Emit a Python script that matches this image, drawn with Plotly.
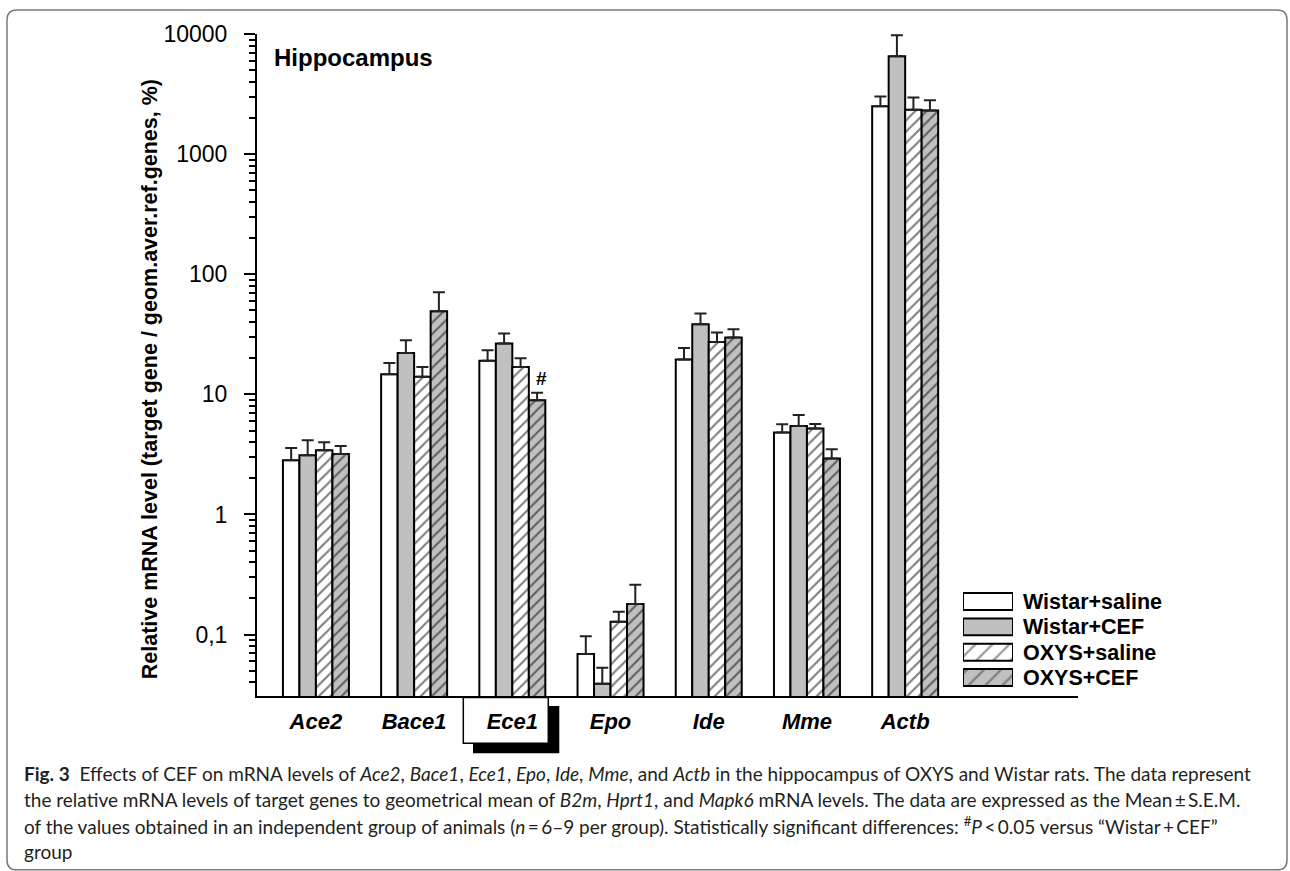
import math
import plotly.graph_objects as go

genes = ["Ace2", "Bace1", "Ece1", "Epo", "Ide", "Mme", "Actb"]
groups = ["Wistar+saline", "Wistar+CEF", "OXYS+saline", "OXYS+CEF"]

wistar_saline = [2.83, 14.7, 19.0, 0.069, 19.5, 4.81, 2506]
wistar_saline_sem = [0.75, 3.5, 4.3, 0.028, 4.8, 0.83, 514]
wistar_cef = [3.11, 22.1, 26.5, 0.039, 38.3, 5.46, 6535]
wistar_cef_sem = [1.04, 6.1, 5.6, 0.014, 8.7, 1.28, 3245]
oxys_saline = [3.43, 14.0, 16.9, 0.128, 27.3, 5.19, 2340]
oxys_saline_sem = [0.57, 2.9, 3.1, 0.027, 5.5, 0.48, 624]
oxys_cef = [3.18, 49.1, 8.93, 0.18, 29.7, 2.92, 2310]
oxys_cef_sem = [0.54, 21.6, 1.4, 0.08, 5.1, 0.57, 500]

ytick_vals = [0.1, 1, 10, 100, 1000, 10000]
ytick_text = ["0,1", "1", "10", "100", "1000", "10000"]

W, H = 1290, 871
L, R, T, B = 257, 1078, 33.5, 696


def px(x):
    return (x - L) / (R - L)


def py(y):
    return (B - y) / (B - T)


GRAY = "#c0c0c0"
styles = [
    dict(color="white", shape=""),
    dict(color=GRAY, shape=""),
    dict(color="white", shape="/"),
    dict(color=GRAY, shape="/"),
]
series = [wistar_saline, wistar_cef, oxys_saline, oxys_cef]
sems = [wistar_saline_sem, wistar_cef_sem, oxys_saline_sem, oxys_cef_sem]

fig = go.Figure()
for name, vals, err, st in zip(groups, series, sems, styles):
    fig.add_trace(go.Bar(
        name=name, x=genes, y=vals, showlegend=False,
        marker=dict(color=st["color"], line=dict(color="black", width=2),
                    pattern=dict(shape=st["shape"], fgcolor="black", bgcolor=st["color"],
                                 size=8, solidity=0.27)),
        error_y=dict(type="data", symmetric=False, array=err, arrayminus=[0] * len(err),
                     color="#222222", thickness=2, width=6),
        xaxis="x", yaxis="y",
    ))

# legend swatches as a small bar chart
fig.add_trace(go.Bar(
    x=[1] * len(groups), y=groups, orientation="h", width=0.67, showlegend=False,
    marker=dict(color=[s["color"] for s in styles], line=dict(color="black", width=2),
                pattern=dict(shape=[s["shape"] for s in styles], fgcolor="black",
                             bgcolor=[s["color"] for s in styles], size=12, solidity=0.2)),
    xaxis="x2", yaxis="y2", hoverinfo="skip",
))

minor_vals = [m * 10 ** e for e in range(-2, 4) for m in range(2, 10)]

fig.update_layout(
    width=W, height=H,
    margin=dict(l=L, r=W - R, t=T, b=H - B, pad=0),
    paper_bgcolor="white", plot_bgcolor="white",
    barmode="group", bargap=0.328, bargroupgap=0,
    font=dict(family="Liberation Sans, Arial, sans-serif", color="black"),
    xaxis=dict(type="category", range=[-0.6, 7.76], showline=True, linecolor="black",
               linewidth=2, ticks="", showgrid=False, zeroline=False,
               tickmode="array", tickvals=genes, ticktext=genes,
               tickfont=dict(size=22, weight="bold", style="italic", color="black"),
               ticklabelstandoff=5),
    yaxis=dict(type="log", range=[math.log10(0.0308), 4.0], showline=True, linecolor="black",
               linewidth=2, ticks="outside", ticklen=11, tickwidth=2, tickcolor="black",
               tickvals=ytick_vals, ticktext=ytick_text, showgrid=False, zeroline=False,
               tickfont=dict(size=23, color="black"), ticklabelstandoff=12,
               minor=dict(tickvals=minor_vals, ticks="outside", ticklen=6, tickwidth=1.5,
                          tickcolor="black", showgrid=False)),
    xaxis2=dict(domain=[px(963), px(1013)], range=[0, 1], visible=False, anchor="y2",
                fixedrange=True),
    yaxis2=dict(domain=[py(690.2), py(588.8)], anchor="x2", type="category",
                autorange="reversed", side="right", showline=False, ticks="",
                tickmode="array", tickvals=groups, ticktext=groups,
                showgrid=False, zeroline=False, ticklabelstandoff=9,
                tickfont=dict(size=21.5, weight="bold", color="black")),
)

# Ece1 label box with drop shadow
fig.add_shape(type="rect", xref="paper", yref="paper", layer="below",
              x0=px(473), x1=px(559.3), y0=py(753.3), y1=py(706),
              fillcolor="black", line=dict(width=0))
fig.add_shape(type="rect", xref="paper", yref="paper", layer="below",
              x0=px(463.3), x1=px(548.3), y0=py(743.3), y1=py(697.5),
              fillcolor="white", line=dict(color="black", width=1.5))

# rounded figure border
bx0, bx1, by0, by1, rr = 7, 1287, 9.5, 870, 10
path = (f"M {px(bx0 + rr)},{py(by0)} L {px(bx1 - rr)},{py(by0)} "
        f"Q {px(bx1)},{py(by0)} {px(bx1)},{py(by0 + rr)} L {px(bx1)},{py(by1 - rr)} "
        f"Q {px(bx1)},{py(by1)} {px(bx1 - rr)},{py(by1)} L {px(bx0 + rr)},{py(by1)} "
        f"Q {px(bx0)},{py(by1)} {px(bx0)},{py(by1 - rr)} L {px(bx0)},{py(by0 + rr)} "
        f"Q {px(bx0)},{py(by0)} {px(bx0 + rr)},{py(by0)} Z")
fig.add_shape(type="path", xref="paper", yref="paper", path=path, layer="below",
              line=dict(color="#7a7a7a", width=1.5))

fig.add_annotation(text="<b>Hippocampus</b>", xref="paper", yref="paper",
                   x=px(272), y=py(57.5), xanchor="left", yanchor="middle",
                   showarrow=False, font=dict(size=24, color="black"))

fig.add_annotation(text="<b>Relative mRNA level (target gene / geom.aver.ref.genes, %)</b>",
                   xref="paper", yref="paper", x=px(150), y=py(379), textangle=-90,
                   xanchor="center", yanchor="middle", showarrow=False,
                   font=dict(size=21.5, color="black"))

fig.add_annotation(text="<b>#</b>", xref="x", yref="y", x="Ece1",
                   y=math.log10(oxys_cef[2] + oxys_cef_sem[2]), xshift=29, yshift=2,
                   xanchor="center", yanchor="bottom", showarrow=False,
                   font=dict(size=19, color="black"))

cap_font = dict(family="Lato, Liberation Sans, sans-serif", size=19, color="#231f20")
caption = [
    "<b>Fig. 3</b>  Effects of CEF on mRNA levels of <i>Ace2</i>, <i>Bace1</i>, <i>Ece1</i>, "
    "<i>Epo</i>, <i>Ide</i>, <i>Mme</i>, and <i>Actb</i> in the hippocampus of OXYS and Wistar rats. "
    "The data represent",
    "the relative mRNA levels of target genes to geometrical mean of <i>B2m</i>, <i>Hprt1</i>, and "
    "<i>Mapk6</i> mRNA levels. The data are expressed as the Mean\u2009\u00b1\u2009S.E.M.",
    "of the values obtained in an independent group of animals (<i>n</i>\u2009=\u20096\u20139 per group). "
    "Statistically significant differences: <sup>#</sup><i>P</i>\u2009<\u20090.05 versus "
    "\u201cWistar\u2009+\u2009CEF\u201d",
    "group",
]
for i, line in enumerate(caption):
    fig.add_annotation(text=line, xref="paper", yref="paper", x=px(22), y=py(774 + 26 * i),
                       xanchor="left", yanchor="middle", showarrow=False, align="left",
                       font=cap_font)

fig.write_html("out.html")
